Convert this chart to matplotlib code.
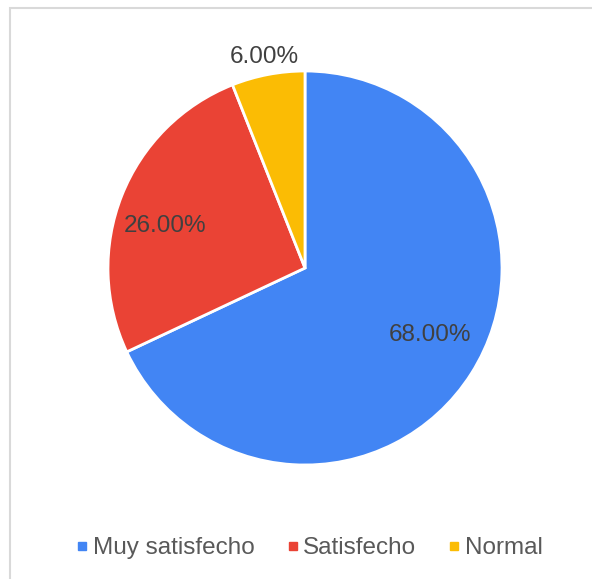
import numpy as np
import matplotlib.pyplot as plt
from matplotlib.lines import Line2D
from matplotlib.patches import Rectangle

plt.rcParams["font.family"] = ["Liberation Sans", "DejaVu Sans"]

# Data
labels = ["Muy satisfecho", "Satisfecho", "Normal"]
values = [68.0, 26.0, 6.0]
colors = ["#4285F4", "#EA4335", "#FBBC04"]

# label placement: distance from centre and angle tweak (deg)
label_dist = [0.72, 0.74, 1.09]
label_turn = [4.0, 5.0, 0.0]

fig = plt.figure(figsize=(5.92, 5.79), dpi=100)

# light border (only top and left are visible in the crop)
fig.patches.append(Rectangle((10 / 592, -0.1), 1.2, 1 - 8 / 579 + 0.1,
                             transform=fig.transFigure, fill=False,
                             edgecolor="#d9d9d9", linewidth=1.5))

ax = fig.add_axes([108 / 592, (579 - 268 - 197) / 579, 394 / 592, 394 / 579])
wedges, texts, autotexts = ax.pie(
    values, colors=colors, startangle=90, counterclock=False,
    autopct="%.2f%%", pctdistance=0.72, radius=1,
    wedgeprops={"edgecolor": "white", "linewidth": 2},
    textprops={"fontsize": 17.5, "color": "#404040"})

for w, t, d, turn in zip(wedges, autotexts, label_dist, label_turn):
    mid = np.deg2rad((w.theta1 + w.theta2) / 2 + turn)
    t.set_position((d * np.cos(mid), d * np.sin(mid)))

ax.set_xlim(-1, 1)
ax.set_ylim(-1, 1)
ax.set_aspect("equal")
ax.axis("off")

handles = [Line2D([], [], marker="s", linestyle="none", markersize=6,
                  markerfacecolor=c, markeredgecolor=c) for c in colors]
fig.legend(handles, labels, loc="center", bbox_to_anchor=(0.524, 1 - 548 / 579),
           ncol=3, frameon=False, fontsize=17.5, handletextpad=0.25,
           columnspacing=1.4, handlelength=0.35, labelcolor="#595959")

plt.savefig("out.png", dpi=100)
